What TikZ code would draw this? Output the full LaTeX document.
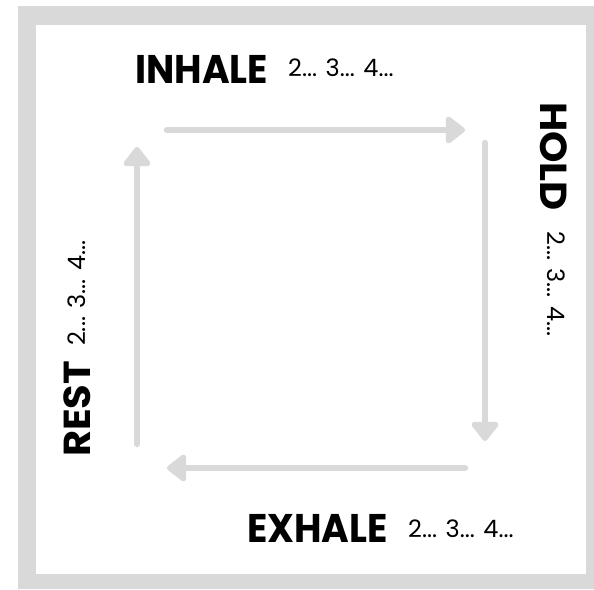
\documentclass[tikz,border=0pt]{standalone}
\usepackage{fontspec}
\setmainfont{Poppins}
\newfontfamily\titlefont{Poppins}[UprightFont=* Bold]
\usetikzlibrary{arrows.meta}
\definecolor{framegray}{HTML}{D9D9D9}
\tikzset{
  flow/.style={draw=framegray, line width=6.5pt, line cap=round,
    -{Triangle[length=21pt,width=31pt,round]}},
  title/.style={font=\titlefont\fontsize{40}{40}\selectfont, inner sep=0pt, xscale=0.94, transform shape},
  count/.style={font=\fontsize{24}{24}\selectfont, inner sep=0pt},
}
\begin{document}
\begin{tikzpicture}[x=1pt,y=-1pt]
\useasboundingbox (0,0) rectangle (594,589);
\fill[white] (0,0) rectangle (594,589);
\fill[framegray] (18,6) rectangle (594,589);
\fill[white] (36,25) rectangle (586,574);
% arrow end points
\coordinate (t1) at (167,130); \coordinate (t2) at (465,130);
\coordinate (r1) at (485,143); \coordinate (r2) at (485,441);
\coordinate (b1) at (465,468); \coordinate (b2) at (167,468);
\coordinate (l1) at (137,444); \coordinate (l2) at (137,147);
\draw[flow] (t1) -- (t2);
\draw[flow] (r1) -- (r2);
\draw[flow] (b1) -- (b2);
\draw[flow] (l1) -- (l2);
% labels
\node[title, anchor=base west] (inhale) at (135,83) {INHALE};
\node[count, anchor=base west] (inhalec) at (288,76) {2... 3... 4...};
\node[title, anchor=base west, rotate=-90] (hold) at (540,102) {HOLD};
\node[count, anchor=base west, rotate=-90] (holdc) at (547,231) {2... 3... 4...};
\node[title, anchor=base west] (exhale) at (247,542) {EXHALE};
\node[count, anchor=base west] (exhalec) at (408,537) {2... 3... 4...};
\node[title, anchor=base west, rotate=90] (rest) at (90,457) {REST};
\node[count, anchor=base west, rotate=90] (restc) at (85,346) {2... 3... 4...};
\end{tikzpicture}
\end{document}
